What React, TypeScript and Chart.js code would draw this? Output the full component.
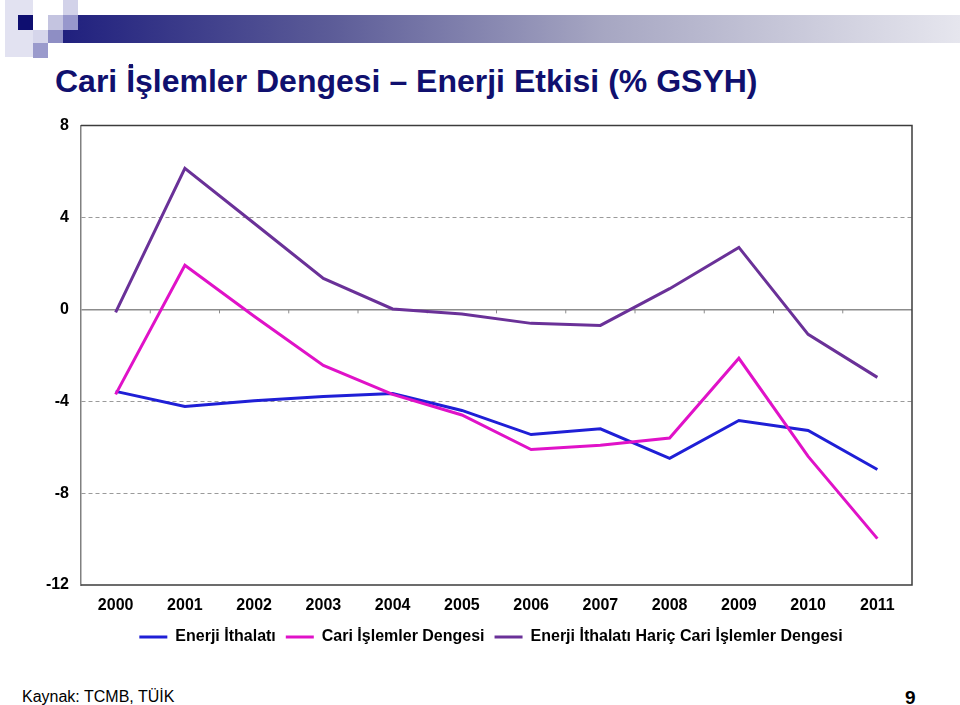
import React, { useEffect, useRef } from 'react';
import { Chart, registerables } from 'chart.js';

Chart.register(...registerables);

const years = ['2000', '2001', '2002', '2003', '2004', '2005', '2006', '2007', '2008', '2009', '2010', '2011'];
const energyImports = [-3.57, -4.23, -3.98, -3.79, -3.66, -4.4, -5.45, -5.2, -6.49, -4.84, -5.27, -6.97];
const currentAccount = [-3.7, 1.92, -0.3, -2.44, -3.7, -4.6, -6.1, -5.92, -5.6, -2.13, -6.4, -9.98];
const excludingEnergy = [-0.13, 6.14, 3.75, 1.35, 0.02, -0.2, -0.61, -0.7, 0.9, 2.7, -1.09, -2.96];
const seriesNames = ['Enerji İthalatı', 'Cari İşlemler Dengesi', 'Enerji İthalatı Hariç Cari İşlemler Dengesi'];
const seriesColors = ['#1f1fd6', '#e012c8', '#6a3198'];
const yMin = -12;
const yMax = 8;
const yStep = 4;

const FONT = 'Arial, "Liberation Sans", Helvetica, sans-serif';

const framePlugin = {
  id: 'framePlugin',
  afterLayout(chart: any) {
    if (chart.legend) {
      chart.legend.left = 70;
    }
  },
  beforeDatasetsDraw(chart: any) {
    const { ctx, chartArea, scales } = chart;
    const { left, right, top, bottom } = chartArea;
    const x = scales.x;
    const y = scales.y;
    ctx.save();
    const y0 = y.getPixelForValue(0);
    ctx.strokeStyle = '#8c8c8c';
    ctx.lineWidth = 1;
    for (let i = 1; i < years.length; i++) {
      const xb = (x.getPixelForValue(i - 1) + x.getPixelForValue(i)) / 2;
      ctx.beginPath();
      ctx.moveTo(xb, y0);
      ctx.lineTo(xb, y0 + 4);
      ctx.stroke();
    }
    ctx.strokeStyle = '#3c3c3c';
    ctx.lineWidth = 1.5;
    ctx.beginPath();
    ctx.moveTo(left, top);
    ctx.lineTo(right, top);
    ctx.lineTo(right, bottom);
    ctx.lineTo(left, bottom);
    ctx.stroke();
    ctx.restore();
  },
};

function LineChart() {
  const ref = useRef<HTMLCanvasElement | null>(null);
  useEffect(() => {
    if (!ref.current) return;
    Chart.defaults.font.family = FONT;
    const chart = new Chart(ref.current, {
      type: 'line',
      data: {
        labels: years,
        datasets: [
          { label: seriesNames[0], data: energyImports, borderColor: seriesColors[0], backgroundColor: seriesColors[0], order: 1 },
          { label: seriesNames[1], data: currentAccount, borderColor: seriesColors[1], backgroundColor: seriesColors[1], order: 0 },
          { label: seriesNames[2], data: excludingEnergy, borderColor: seriesColors[2], backgroundColor: seriesColors[2], order: 2 },
        ].map((d) => ({ ...d, borderWidth: 3, pointRadius: 0, tension: 0, fill: false })),
      },
      options: {
        animation: false,
        responsive: false,
        layout: { padding: { left: 0, right: 48, top: 9, bottom: 0 } },
        plugins: {
          tooltip: { enabled: false },
          legend: {
            position: 'bottom',
            labels: {
              usePointStyle: true,
              pointStyle: 'line',
              pointStyleWidth: 28,
              padding: 10,
              color: '#000',
              font: { size: 16, weight: 'bold', family: FONT },
              sort: (a: any, b: any) => a.datasetIndex - b.datasetIndex,
            },
          },
        },
        scales: {
          x: {
            offset: true,
            grid: { display: false },
            border: { display: false },
            ticks: {
              color: '#000',
              padding: 3,
              autoSkip: false,
              maxRotation: 0,
              font: { size: 16, weight: 'bold', family: FONT },
            },
            afterFit: (s: any) => {
              s.height = 34;
            },
          },
          y: {
            min: yMin,
            max: yMax,
            ticks: {
              stepSize: yStep,
              color: '#000',
              padding: 12,
              font: { size: 16, weight: 'bold', family: FONT },
            },
            grid: {
              drawTicks: false,
              color: (c: any) => {
                const v = c.tick ? c.tick.value : null;
                if (v === yMin || v === yMax) return 'rgba(0,0,0,0)';
                if (v === 0) return '#8c8c8c';
                return '#9a9a9a';
              },
              lineWidth: (c: any) => (c.tick && c.tick.value === 0 ? 1.5 : 1),
            },
            border: {
              display: true,
              color: '#808080',
              width: 1.5,
              dash: (c: any) => (c.tick && c.tick.value !== 0 ? [4, 3] : []),
            },
            afterFit: (s: any) => {
              s.width = 81;
            },
          },
        },
      } as any,
      plugins: [framePlugin],
    });
    return () => chart.destroy();
  }, []);
  return <canvas ref={ref} width={960} height={551} style={{ width: 960, height: 551, display: 'block' }} />;
}

export default function App() {
  const sq = (l: number, t: number, w: number, h: number, c: string) => (
    <div style={{ position: 'absolute', left: l, top: t, width: w, height: h, background: c }} />
  );
  return (
    <div style={{ position: 'fixed', left: 0, top: 0, width: 960, height: 705, background: '#fff', overflow: 'hidden', fontFamily: FONT }}>
      <div
        style={{
          position: 'absolute',
          left: 63,
          top: 15,
          width: 897,
          height: 28,
          background: 'linear-gradient(to right, #20207e 0%, #5c5c98 30%, #a6a6c2 60%, #e6e6ee 100%)',
        }}
      />
      {sq(5, 0, 28, 57, '#e2e2f1')}
      {sq(18, 15, 15, 15, '#0e0e70')}
      {sq(33, 30, 15, 13, '#d6d6eb')}
      {sq(33, 43, 15, 15, '#9a9acc')}
      {sq(48, 15, 15, 15, '#c4c4e0')}
      {sq(48, 30, 15, 13, '#8e8ec4')}
      {sq(63, 0, 15, 15, '#d2d2e9')}
      {sq(63, 15, 15, 15, '#9898cc')}
      {sq(129, 64, 4, 4, '#1a1a78')}
      <div
        style={{
          position: 'absolute',
          left: 55,
          top: 63,
          fontSize: 32,
          lineHeight: '36px',
          fontWeight: 'bold',
          color: '#10106e',
          whiteSpace: 'nowrap',
        }}
      >
        Cari İşlemler Dengesi – Enerji Etkisi (% GSYH)
      </div>
      <div style={{ position: 'absolute', left: 0, top: 104, width: 960, height: 551 }}>
        <LineChart />
      </div>
      <div style={{ position: 'absolute', left: 22, top: 688, fontSize: 16, lineHeight: '18px', color: '#000', whiteSpace: 'nowrap' }}>
        Kaynak: TCMB, TÜİK
      </div>
      <div style={{ position: 'absolute', left: 905, top: 688, fontSize: 19, lineHeight: '20px', fontWeight: 'bold', color: '#000' }}>
        9
      </div>
    </div>
  );
}
